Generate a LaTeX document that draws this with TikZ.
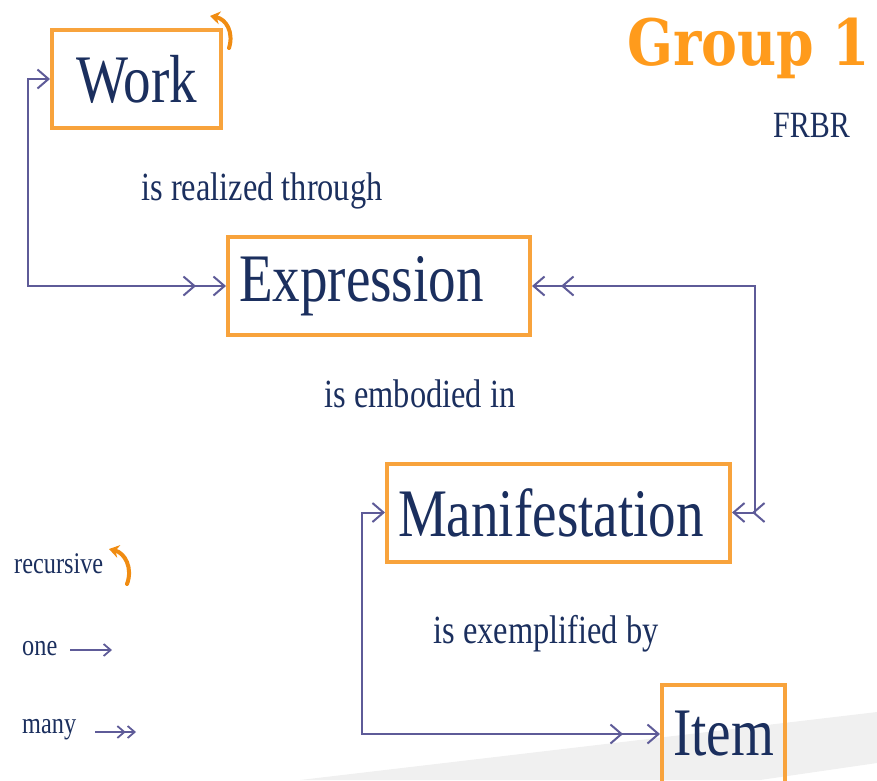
\documentclass[tikz,border=0pt]{standalone}
\usepackage{fontspec}
\setmainfont{Liberation Serif}[FakeStretch=0.81]
\newfontfamily\groupfont{DejaVu Serif}[FakeStretch=0.84]
\usepackage{xcolor}
\usetikzlibrary{arrows.meta,positioning,calc,decorations.markings}
\definecolor{navy}{HTML}{1B2F5E}
\definecolor{boxorange}{HTML}{F8A33C}
\definecolor{grouporange}{HTML}{FF9B1C}
\definecolor{recurorange}{HTML}{F08C12}
\definecolor{linkcol}{HTML}{5E5B98}
\definecolor{wedgegray}{HTML}{F0F0F0}

\begin{document}
\begin{tikzpicture}[x=1pt, y=-1pt,
	barb/.tip={Straight Barb[length=11pt,width=19pt,line width=2pt]},
	smallbarb/.tip={Straight Barb[length=7pt,width=12pt,line width=1.8pt]},
	entity/.style={draw=boxorange, line width=4pt, rectangle, text=navy, minimum height=98pt, inner xsep=11pt, font=\fontsize{68pt}{70pt}\selectfont},
	relation/.style={text=navy, font=\fontsize{40pt}{42pt}\selectfont},
	legend/.style={text=navy, font=\fontsize{30pt}{32pt}\selectfont, anchor=base west, inner sep=0pt},
	link/.style={draw=linkcol, line width=2pt},
	twin end/.style={postaction={decorate, decoration={markings, mark=at position -#1 with {\arrow{barb}}}}},
	twin start/.style={postaction={decorate, decoration={markings, mark=at position #1 with {\arrowreversed{barb}}}}},
	recur/.style={draw=recurorange, line width=4pt, line cap=round, -{Stealth[length=10pt,width=13pt]}}]
	\useasboundingbox (0,0) rectangle (877,780);
	\clip (0,0) rectangle (877,780);
	\fill[wedgegray] (300,780) -- (877,712) -- (877,763) -- (760,780) -- cycle;

	\node[entity, text width=147pt, align=center] (work) at (136.5,79) {Work};
	\node[entity, text width=280pt, align=left] (expr) at (379,286) {Expression};
	\node[entity, text width=321pt, align=left] (mani) at (558.5,512.5) {Manifestation};
	\node[entity, text width=101pt, align=center] (item) at (723.5,734) {Item};

	\node[text=grouporange, font=\groupfont\bfseries\fontsize{64pt}{66pt}\selectfont, anchor=base west, inner sep=0pt] (group) at (627,65) {Group 1};
	\node[text=navy, font=\fontsize{37pt}{39pt}\selectfont, anchor=base west, inner sep=0pt] (frbr) at (773,137) {FRBR};

	\node[relation, anchor=base] (realized) at (262,200) {is realized through};
	\node[relation, anchor=base] (embodied) at (420,407) {is embodied in};
	\node[relation, anchor=base] (exemplified) at (546,643) {is exemplified by};

	\coordinate (leftrail) at (28,0);
	\coordinate (rightrail) at (755,0);
	\coordinate (lowrail) at (362,0);

	\draw[link, barb-barb, twin end=30pt] (work.west) -- (work.west -| leftrail) |- (expr.west);
	\draw[link, barb-barb, twin start=29pt, twin end=20pt] (expr.east) -- (expr.east -| rightrail) |- (mani.east);
	\draw[link, barb-barb, twin end=37pt] (mani.west) -- (mani.west -| lowrail) |- (item.west);

	\coordinate (workrecur) at ($(work.north east)+(6,20)$);
	\draw[recur] (workrecur) .. controls (234,32) and (226,19) .. (210,16);

	\node[legend] (recursive) at (14,573) {recursive};
	\coordinate (legendrecur) at (127,584);
	\draw[recur] (legendrecur) .. controls (133,568) and (125,553) .. (109,549);

	\node[legend] (one) at (22,655) {one};
	\coordinate (oneA) at (70,650);
	\coordinate (oneB) at (112,650);
	\draw[link, line width=1.8pt, -smallbarb] (oneA) -- (oneB);

	\node[legend] (many) at (22,733) {many};
	\coordinate (manyA) at (95,732);
	\coordinate (manyB) at (136,732);
	\draw[link, line width=1.8pt, -{smallbarb[sep=1pt]smallbarb}] (manyA) -- (manyB);
\end{tikzpicture}
\end{document}
